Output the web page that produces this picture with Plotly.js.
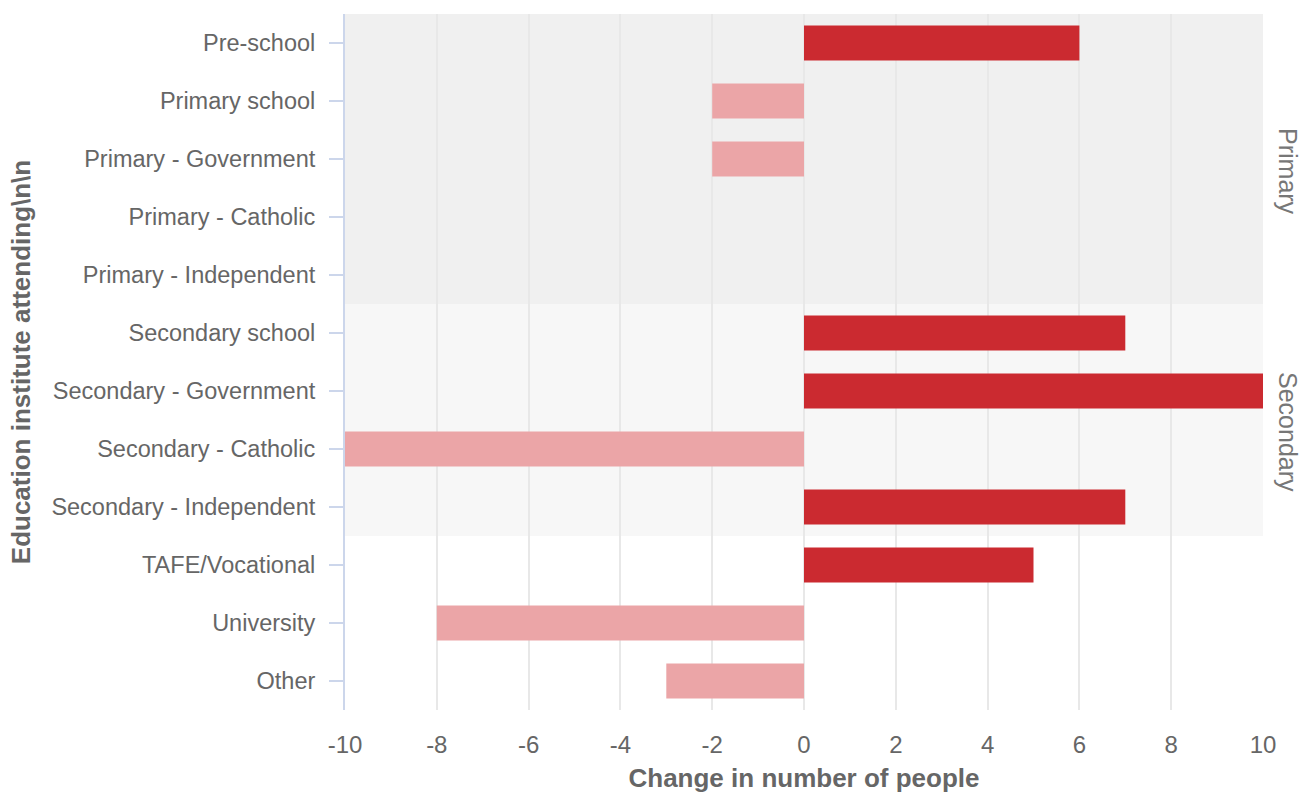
<!DOCTYPE html>
<html>
<head>
<meta charset="utf-8">
<script src="https://cdn.plot.ly/plotly-3.0.1.min.js"></script>
<style>html,body{margin:0;padding:0;background:#fff;}#chart{width:1303px;height:793px;}</style>
</head>
<body>
<div id="chart"></div>
<script>
const categories = ["Pre-school","Primary school","Primary - Government","Primary - Catholic","Primary - Independent","Secondary school","Secondary - Government","Secondary - Catholic","Secondary - Independent","TAFE/Vocational","University","Other"];
const changes = [6,-2,-2,0,0,7,10,-10,7,5,-8,-3];
const xTicks = [-10,-8,-6,-4,-2,0,2,4,6,8,10];
const groupNames = ["Primary","Secondary"];
const groupFirst = ["Pre-school","Secondary school"];
const groupLast = ["Primary - Independent","Secondary - Independent"];

const POS = "#cb2a30", NEG = "#eba5a7";
const colors = changes.map(v => v >= 0 ? POS : NEG);

const trace = {
  type: "bar", orientation: "h",
  x: changes, y: categories,
  width: 0.6,
  marker: {color: colors, line: {width: 0}},
  hoverinfo: "x+y"
};

const fills = ["#f0f0f0","#f7f7f7"];
const shapes = [], annotations = [];
groupNames.forEach((g, i) => {
  const i0 = categories.indexOf(groupFirst[i]) - 0.5;
  const i1 = categories.indexOf(groupLast[i]) + 0.5;
  shapes.push({type:"rect", xref:"paper", yref:"y", x0:0, x1:1, y0:i0, y1:i1,
    fillcolor: fills[i], line:{width:0}, layer:"below"});
  annotations.push({xref:"paper", yref:"y", x:1, xanchor:"center", xshift:25, y:(i0+i1)/2, yshift:-12,
    text:g, textangle:90, showarrow:false, borderpad:0,
    font:{size:25, color:"#777777", family:"Liberation Sans, Arial, sans-serif"}});
});

const layout = {
  width:1303, height:793,
  margin:{l:345, r:40, t:14, b:83},
  paper_bgcolor:"#ffffff", plot_bgcolor:"#ffffff",
  font:{family:"Liberation Sans, Arial, sans-serif", color:"#666666"},
  showlegend:false,
  bargap:0.4,
  xaxis:{range:[-10,10], tickvals:xTicks, ticktext:xTicks.map(String),
    showgrid:true, gridcolor:"#e8e8e8", gridwidth:2, zeroline:false, showline:false,
    ticks:"", tickfont:{size:24, color:"#666666"}, ticklabelstandoff:18,
    title:{text:"<b>Change in number of people</b>", font:{size:26, color:"#666666"}, standoff:12}},
  yaxis:{type:"category", autorange:"reversed", categoryorder:"array", categoryarray:categories,
    showgrid:false, zeroline:false, showline:true, linecolor:"#ccd6eb", linewidth:2,
    ticks:"outside", ticklen:14, tickcolor:"#ccd6eb", tickwidth:2, ticklabelstandoff:9,
    tickfont:{size:23.5, color:"#666666"},
    title:{text:"<b>Education institute attending\\n\\n</b>", font:{size:26, color:"#666666"}, standoff:13}},
  shapes:shapes, annotations:annotations
};

Plotly.newPlot("chart", [trace], layout, {displayModeBar:false, responsive:false});
</script>
</body>
</html>
